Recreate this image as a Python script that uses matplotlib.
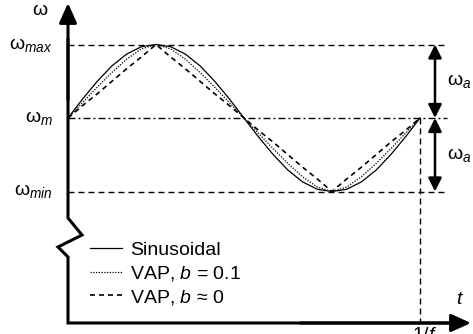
import numpy as np
import matplotlib
matplotlib.use('Agg')
import matplotlib.pyplot as plt

plt.rcParams['font.family'] = ['Liberation Sans', 'DejaVu Sans']
plt.rcParams['mathtext.fontset'] = 'custom'
plt.rcParams['mathtext.rm'] = 'Liberation Sans'
plt.rcParams['mathtext.it'] = 'Liberation Sans:italic'

# one period of rotor speed, normalised: omega = omega_m + omega_a * value
phase = np.linspace(0, 1, 25)
sinusoidal = [0, 0.26, 0.50, 0.71, 0.87, 0.97, 1.0, 0.97, 0.87, 0.71, 0.50, 0.26,
              0, -0.26, -0.50, -0.71, -0.87, -0.97, -1.0, -0.97, -0.87, -0.71, -0.50, -0.26, 0]
vap_b01 = [0, 0.21, 0.42, 0.62, 0.80, 0.94, 1.0, 0.94, 0.80, 0.62, 0.42, 0.21,
           0, -0.21, -0.42, -0.62, -0.80, -0.94, -1.0, -0.94, -0.80, -0.62, -0.42, -0.21, 0]
vap_b0 = [0, 0.17, 0.33, 0.50, 0.67, 0.83, 1.0, 0.83, 0.67, 0.50, 0.33, 0.17,
          0, -0.17, -0.33, -0.50, -0.67, -0.83, -1.0, -0.83, -0.67, -0.50, -0.33, -0.17, 0]
labels = ['Sinusoidal', 'VAP, $b$ = 0.1', 'VAP, $b$ ≈ 0']

# pixel -> data helpers for the sketch decorations
X0, P = 68, 352
Y0, A = 118, 73.5
def px(x):
    return (x - X0) / P
def py(y):
    return (Y0 - y) / A

fig = plt.figure(figsize=(4.73, 3.34), dpi=100)
ax = fig.add_axes([0, 0, 1, 1])
ax.set_xlim(px(0), px(473))
ax.set_ylim(py(334), py(0))
ax.axis('off')

# curves
ax.plot(phase, sinusoidal, color='k', lw=0.9, label=labels[0])
ax.plot(phase, vap_b01, color='k', lw=0.9, ls=(0, (1, 1.2)), label=labels[1])
ax.plot(phase, vap_b0, color='k', lw=1.2, ls=(0, (3, 2.4)), label=labels[2])

# reference levels
dash = (0, (4.3, 2.9))
ax.plot([0, px(444)], [1, 1], color='k', lw=1, ls=dash)
ax.plot([0, px(447)], [0, 0], color='k', lw=1, ls=(0, (5, 2.2, 1.4, 2.2)))
ax.plot([0, px(448)], [-1, -1], color='k', lw=1, ls=dash)
ax.plot([1, 1], [0, py(323)], color='k', lw=1, ls=dash)

# axes with break
zx = [460, 68, 68, 58, 82, 68, 68]
zy = [323, 323, 257, 247, 235, 218, 40]
ax.plot([px(v) for v in zx], [py(v) for v in zy], color='k', lw=2.2,
        solid_joinstyle='miter')
head = dict(arrowstyle='-|>,head_length=0.6,head_width=0.27', lw=2.2, color='k',
            shrinkA=0, shrinkB=0, mutation_scale=20)
ax.annotate('', xy=(0, py(3)), xytext=(0, py(100)), arrowprops=head)
ax.annotate('', xy=(px(471), py(323)), xytext=(px(300), py(323)), arrowprops=head)

# amplitude arrows
dbl = dict(arrowstyle='<|-|>,head_length=0.5,head_width=0.25', lw=1.8, color='k',
           shrinkA=0, shrinkB=0, mutation_scale=16)
ax.annotate('', xy=(px(435), 1), xytext=(px(435), 0), arrowprops=dbl)
ax.annotate('', xy=(px(435), 0), xytext=(px(435), -1), arrowprops=dbl)

fs = 14
ax.text(px(40), py(10), 'ω', ha='center', va='center', fontsize=fs)
ax.text(px(53), 1, 'ω$_{max}$', ha='right', va='center', fontsize=fs)
ax.text(px(53), 0, 'ω$_{m}$', ha='right', va='center', fontsize=fs)
ax.text(px(53), -1, 'ω$_{min}$', ha='right', va='center', fontsize=fs)
ax.text(px(447), 0.5, 'ω$_{a}$', ha='left', va='center', fontsize=fs)
ax.text(px(447), -0.5, 'ω$_{a}$', ha='left', va='center', fontsize=fs)
ax.text(px(460), py(300), '$t$', ha='center', va='center', fontsize=fs)
ax.text(px(425), py(327), '1/$f$', ha='center', va='top', fontsize=fs)

ax.legend(loc='center left', bbox_to_anchor=(px(90), py(274)), bbox_transform=ax.transData,
          frameon=False, fontsize=fs, handlelength=1.64, handletextpad=0.41,
          labelspacing=0.25, borderpad=0, borderaxespad=0)

fig.savefig('out.png', dpi=100)
